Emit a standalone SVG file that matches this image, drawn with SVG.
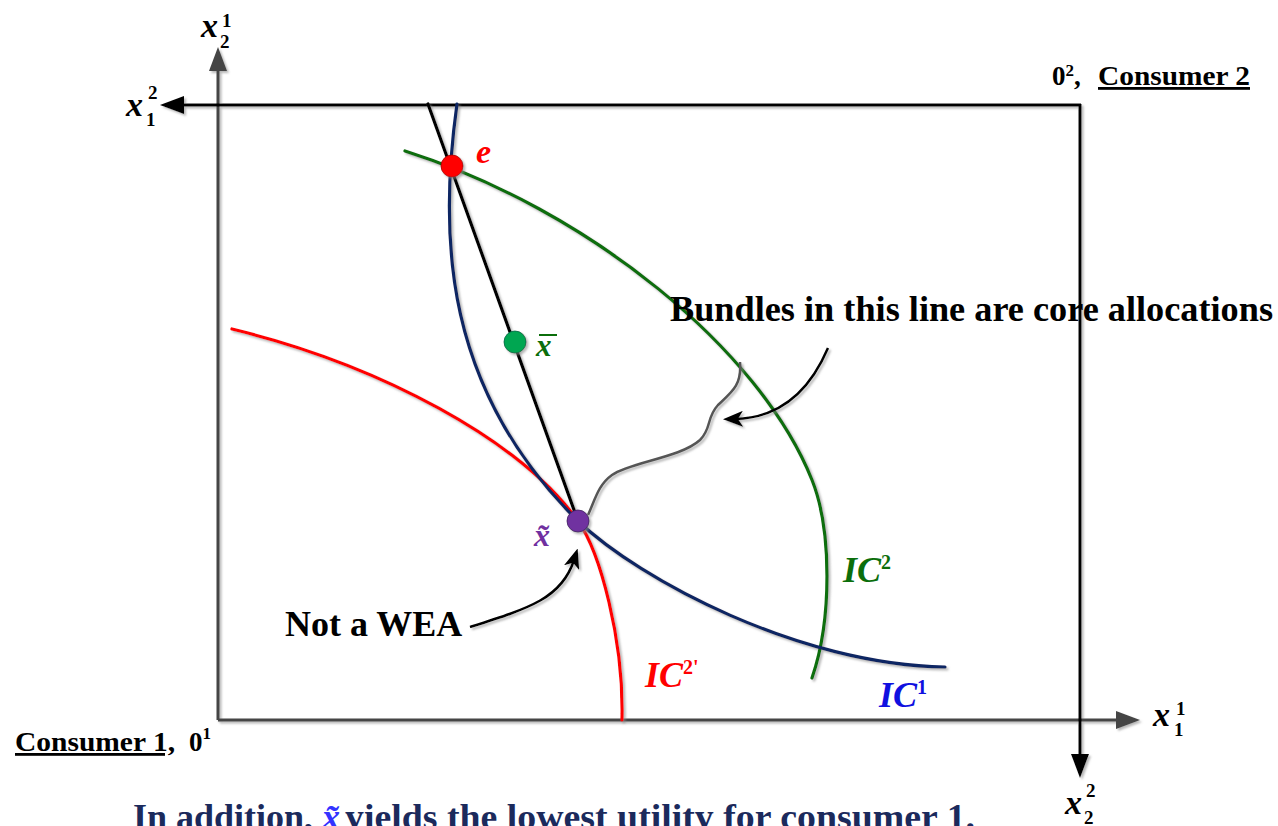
<svg xmlns="http://www.w3.org/2000/svg" width="1278" height="826" viewBox="0 0 1278 826">
<style>
.t{font-family:"Liberation Serif","Times New Roman",serif;font-weight:bold}
.i{font-style:italic}
.ax{fill:none;stroke-width:3}
.cv{fill:none;stroke-width:3.2;stroke-linecap:round}
</style>
<defs>
<filter id="sh" x="-10%" y="-10%" width="130%" height="130%">
<feDropShadow dx="2" dy="2" stdDeviation="1" flood-color="#888" flood-opacity="0.6"/>
</filter>
<marker id="ahG" viewBox="0 0 24 18" refX="14" refY="9" markerWidth="24" markerHeight="18" markerUnits="userSpaceOnUse" orient="auto">
<path d="M0,0 L24,9 L0,18 z" fill="#444"/>
</marker>
<marker id="ahK" viewBox="0 0 24 18" refX="14" refY="9" markerWidth="24" markerHeight="18" markerUnits="userSpaceOnUse" orient="auto">
<path d="M0,0 L24,9 L0,18 z" fill="#000"/>
</marker>
<marker id="ahS" viewBox="0 0 20 16" refX="8" refY="8" markerWidth="20" markerHeight="16" markerUnits="userSpaceOnUse" orient="auto">
<path d="M0,0 L20,8 L0,16 L5,8 z" fill="#000"/>
</marker>
</defs>
<rect width="1278" height="826" fill="#fff"/>

<g id="axes" filter="url(#sh)">
<path class="ax" d="M218,720 L218,57" stroke="#444" marker-end="url(#ahG)"/>
<path class="ax" d="M218,720 L1130,720" stroke="#444" marker-end="url(#ahG)"/>
<path class="ax" d="M1081,105 L170,105" stroke="#000" marker-end="url(#ahK)"/>
<path class="ax" d="M1080,104 L1080,768" stroke="#000" marker-end="url(#ahK)"/>
</g>

<g id="curves" filter="url(#sh)">
<path id="ic2prime" class="cv" stroke="#ff0000" d="M232,329 C380,365 520,440 578,521 C600,552 624,640 622,720"/>
<path id="ic2" class="cv" stroke="#0b6e0b" d="M405,151 C590,210 760,350 812,480 C832,530 832,620 812,678"/>
<path id="ic1" class="cv" stroke="#0f2563" d="M457,104 C438,240 445,390 578,521 C640,580 800,665 945,667"/>
<path id="core-line" class="cv" stroke="#000" d="M428,104 L578,521"/>
</g>

<g id="connectors" filter="url(#sh)">
<path id="brace" fill="none" stroke="#555" stroke-width="2.5" d="M588,515 C595,500 598,485 612,475 C630,462 680,458 700,440 C712,428 706,418 718,405 C732,392 742,385 740,362"/>
<path id="arrow-core" fill="none" stroke="#000" stroke-width="2.5" d="M828,348 C810,390 780,418 735,419" marker-end="url(#ahS)"/>
<path id="arrow-wea" fill="none" stroke="#000" stroke-width="2.5" d="M470,627 C530,608 562,598 574,560" marker-end="url(#ahS)"/>
</g>

<g id="node-e" filter="url(#sh)">
<circle cx="452" cy="166" r="11" fill="#ff0000" stroke="#a00" stroke-width="0.8"/>
</g>
<g id="node-xbar" filter="url(#sh)">
<circle cx="515" cy="342" r="11" fill="#00a651" stroke="#064" stroke-width="0.8"/>
</g>
<g id="node-xtilde" filter="url(#sh)">
<circle cx="578" cy="521" r="11" fill="#7030a0" stroke="#402060" stroke-width="0.8"/>
</g>

<g id="labels">
<text class="t i" x="476" y="163" font-size="34" fill="#ff0000">e</text>
<text class="t i" x="536" y="356" font-size="31" fill="#0b6e0b">x</text>
<line x1="539" y1="335" x2="557" y2="335" stroke="#0b6e0b" stroke-width="2"/>
<text class="t i" x="534" y="546" font-size="32" fill="#7030a0">x̃</text>

<text class="t i" x="843" y="582" font-size="36" fill="#0b6e0b">IC<tspan font-size="20" dy="-13" font-style="normal">2</tspan></text>
<text class="t i" x="645" y="687" font-size="36" fill="#ff0000">IC<tspan font-size="20" dy="-13" font-style="normal">2'</tspan></text>
<text class="t i" x="879" y="707" font-size="36" fill="#1010e0">IC<tspan font-size="20" dy="-13" font-style="normal">1</tspan></text>

<text class="t" x="670" y="321" font-size="36" fill="#000" textLength="603" lengthAdjust="spacingAndGlyphs">Bundles in this line are core allocations</text>
<text class="t" x="285" y="636" font-size="36" fill="#000">Not a WEA</text>

<g id="label-x21">
<text class="t i" x="201" y="37" font-size="34" fill="#000">x</text>
<text class="t" x="220" y="48" font-size="19" fill="#000">2</text>
<text class="t" x="222" y="27" font-size="19" fill="#000">1</text>
</g>
<g id="label-x12">
<text class="t i" x="126" y="116" font-size="34" fill="#000">x</text>
<text class="t" x="146" y="126" font-size="19" fill="#000">1</text>
<text class="t" x="148" y="99" font-size="19" fill="#000">2</text>
</g>
<g id="label-x11">
<text class="t i" x="1153" y="726" font-size="34" fill="#000">x</text>
<text class="t" x="1174" y="736" font-size="19" fill="#000">1</text>
<text class="t" x="1176" y="715" font-size="19" fill="#000">1</text>
</g>
<g id="label-x22">
<text class="t i" x="1065" y="814" font-size="34" fill="#000">x</text>
<text class="t" x="1084" y="824" font-size="19" fill="#000">2</text>
<text class="t" x="1086" y="797" font-size="19" fill="#000">2</text>
</g>

<g id="label-consumer2">
<text class="t" x="1052" y="85" font-size="27" fill="#000">0<tspan font-size="17" dy="-9">2</tspan><tspan dy="9">,</tspan></text>
<text class="t" x="1098" y="85" font-size="28" fill="#000" text-decoration="underline" textLength="152" lengthAdjust="spacingAndGlyphs">Consumer 2</text>
</g>
<g id="label-consumer1">
<text class="t" x="15" y="751" font-size="28" fill="#000" text-decoration="underline" textLength="160" lengthAdjust="spacingAndGlyphs">Consumer 1,</text>
<text class="t" x="189" y="751" font-size="27" fill="#000">0<tspan font-size="17" dy="-12">1</tspan></text>
</g>

<text class="t" x="133" y="829" font-size="36" fill="#1b2a5c">In addition, <tspan font-style="italic" fill="#3333ff">x̃</tspan></text>
<text class="t" x="345" y="829" font-size="36" fill="#1b2a5c" textLength="630" lengthAdjust="spacingAndGlyphs">yields the lowest utility for consumer 1.</text>
</g>
</svg>
